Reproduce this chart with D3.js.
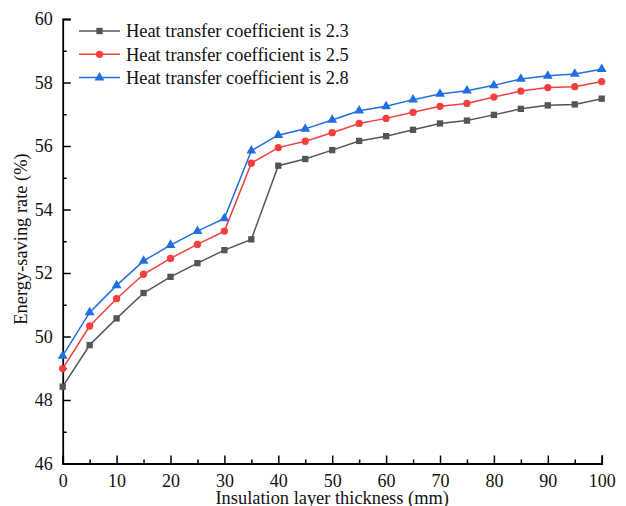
<!DOCTYPE html>
<html>
<head>
<meta charset="utf-8">
<script src="https://cdn.jsdelivr.net/npm/d3@7/dist/d3.min.js"></script>
<style>
  html, body { margin: 0; padding: 0; background: #fff; }
  svg { display: block; font-family: "Liberation Serif", "Times New Roman", serif; }
</style>
</head>
<body>
<svg id="chart" width="626" height="506"></svg>
<script>
// Insulation layer thickness (mm)
const thickness = [0, 5, 10, 15, 20, 25, 30, 35, 40, 45, 50, 55, 60, 65, 70, 75, 80, 85, 90, 95, 100];

// Energy-saving rate (%) for each heat transfer coefficient
const rate23 = [48.42, 49.73, 50.57, 51.37, 51.88, 52.31, 52.72, 53.06, 55.38, 55.59, 55.87, 56.16, 56.31, 56.51, 56.71, 56.80, 56.98, 57.17, 57.28, 57.31, 57.49];
const rate25 = [48.99, 50.33, 51.19, 51.96, 52.46, 52.90, 53.32, 55.46, 55.95, 56.15, 56.42, 56.71, 56.87, 57.06, 57.25, 57.34, 57.54, 57.73, 57.84, 57.87, 58.03];
const rate28 = [49.39, 50.76, 51.61, 52.38, 52.88, 53.32, 53.72, 55.85, 56.34, 56.54, 56.82, 57.11, 57.25, 57.46, 57.64, 57.74, 57.91, 58.11, 58.21, 58.27, 58.42];

const seriesNames = ["Heat transfer coefficient is 2.3", "Heat transfer coefficient is 2.5", "Heat transfer coefficient is 2.8"];
const xTicks = [0, 10, 20, 30, 40, 50, 60, 70, 80, 90, 100];
const yTicks = [46, 48, 50, 52, 54, 56, 58, 60];

const series = [
  { name: seriesNames[0], values: rate23, color: "#555555", symbol: d3.symbolSquare, size: 40 },
  { name: seriesNames[1], values: rate25, color: "#f43f3f", symbol: d3.symbolCircle, size: 42 },
  { name: seriesNames[2], values: rate28, color: "#1f6fe0", symbol: d3.symbolTriangle, size: 42 }
];

const svg = d3.select("#chart");
const plotLeft = 62.7, plotRight = 601.7, plotTop = 19, plotBottom = 463.5;

const x = d3.scaleLinear().domain([0, 100]).range([plotLeft, plotRight]);
const y = d3.scaleLinear().domain([46, 60]).range([plotBottom, plotTop]);

// Axes with inward ticks: majors labelled, minors between them
const axisG = svg.append("g");

const xMinor = d3.range(5, 100, 10);
const yMinor = d3.range(47, 60, 2);

const gx = axisG.append("g").attr("transform", `translate(0,${plotBottom})`);
gx.call(d3.axisBottom(x).tickValues(xTicks).tickSize(-8).tickPadding(10.5).tickFormat(d3.format("d")));
gx.append("g").call(d3.axisBottom(x).tickValues(xMinor).tickSize(-4).tickFormat(""))
  .call(g => g.select(".domain").remove());

const gy = axisG.append("g").attr("transform", `translate(${plotLeft},0)`);
gy.call(d3.axisLeft(y).tickValues(yTicks).tickSize(-8).tickPadding(10).tickFormat(d3.format("d")));
gy.append("g").call(d3.axisLeft(y).tickValues(yMinor).tickSize(-4).tickFormat(""))
  .call(g => g.select(".domain").remove());

axisG.selectAll(".domain").attr("stroke", "#000").attr("stroke-width", 1.8);
axisG.selectAll(".tick line").attr("stroke", "#000").attr("stroke-width", 1.5);
axisG.selectAll("g").attr("font-family", null).attr("font-size", null);
axisG.selectAll(".tick text")
  .attr("fill", "#111")
  .style("font-size", "18px");

// Axis titles
svg.append("text")
  .attr("x", (plotLeft + plotRight) / 2)
  .attr("y", 503.5)
  .attr("text-anchor", "middle")
  .attr("fill", "#111")
  .style("font-size", "18.4px")
  .text("Insulation layer thickness (mm)");

svg.append("text")
  .attr("transform", "translate(27,239) rotate(-90)")
  .attr("text-anchor", "middle")
  .attr("fill", "#111")
  .style("font-size", "18.4px")
  .text("Energy-saving rate (%)");

// Series lines and markers
const line = d3.line()
  .x((d, i) => x(thickness[i]))
  .y(d => y(d));

const plot = svg.append("g");
series.forEach(s => {
  plot.append("path")
    .datum(s.values)
    .attr("fill", "none")
    .attr("stroke", s.color)
    .attr("stroke-width", 1.5)
    .attr("d", line);
  plot.selectAll(null)
    .data(s.values)
    .enter()
    .append("path")
    .attr("transform", (d, i) => `translate(${x(thickness[i])},${y(d)})`)
    .attr("d", d3.symbol().type(s.symbol).size(s.size))
    .attr("fill", s.color);
});

// Legend
const legend = svg.append("g");
series.forEach((s, i) => {
  const ly = 31 + i * 23.3;
  legend.append("line")
    .attr("x1", 79).attr("x2", 120)
    .attr("y1", ly).attr("y2", ly)
    .attr("stroke", s.color)
    .attr("stroke-width", 1.5);
  legend.append("path")
    .attr("transform", `translate(99.5,${ly})`)
    .attr("d", d3.symbol().type(s.symbol).size(s.size))
    .attr("fill", s.color);
  legend.append("text")
    .attr("x", 126)
    .attr("y", ly + 6.3)
    .attr("fill", "#111")
    .style("font-size", "18.4px")
    .text(s.name);
});
</script>
</body>
</html>
